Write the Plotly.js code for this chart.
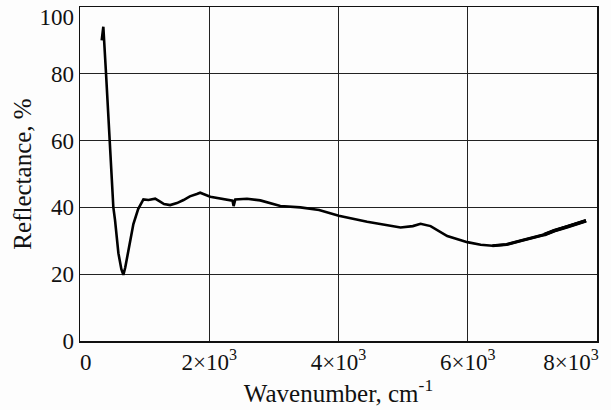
<!DOCTYPE html>
<html>
<head>
<meta charset="utf-8">
<script src="https://cdn.plot.ly/plotly-3.0.1.min.js"></script>
<style>html,body{margin:0;padding:0;background:#fdfdfd;}#chart{width:611px;height:410px;}</style>
</head>
<body>
<div id="chart"></div>
<script>
// Wavenumber (cm^-1)
var wavenumber = [336, 352, 361, 403, 465, 516, 542, 594, 640, 671, 700, 750, 826, 900, 955, 981, 1060, 1163, 1240, 1300, 1395, 1500, 1602, 1700, 1808, 1860, 2015, 2222, 2360, 2377, 2395, 2403, 2584, 2790, 3100, 3410, 3700, 4004, 4443, 4960, 5150, 5270, 5425, 5683, 5993, 6200, 6381, 6600, 6820, 7000, 7181, 7336, 7543, 7700, 7802, 7830];
// Reflectance (%)
var reflectance = [90, 93.5, 94.1, 80, 60, 40, 36.2, 26.3, 21.5, 19.8, 22, 27, 35, 39.5, 41.5, 42.4, 42.2, 42.6, 41.7, 41.0, 40.7, 41.3, 42.2, 43.3, 44, 44.4, 43.2, 42.4, 42.0, 40.4, 42.0, 42.4, 42.6, 42.1, 40.4, 40, 39.2, 37.5, 35.7, 34, 34.4, 35.1, 34.4, 31.4, 29.6, 28.8, 28.5, 28.9, 30.0, 30.8, 31.8, 33.0, 34.2, 35.1, 35.7, 36];
var xTickVals = [0, 2000, 4000, 6000, 8000];
var xTickText = ["&nbsp;&nbsp;0", "2×10<sup>3</sup>", "4×10<sup>3</sup>", "6×10<sup>3</sup>", "8×10<sup>3</sup>&nbsp;&nbsp;&nbsp;&nbsp;&nbsp;&nbsp;&nbsp;&nbsp;&nbsp;"];
var yTickVals = [0, 20, 40, 60, 80, 100];
var yTickText = ["0", "20", "40", "60", "80", "<span style='baseline-shift:-10px'>100</span>"];

var tickFont = {family: "'Liberation Serif', serif", size: 23, color: "#111"};
var titleFont = {family: "'Liberation Serif', serif", size: 25, color: "#111"};

// noisy tail drawn progressively thicker, taken from the same arrays
function tail(fromValue) {
  var i = wavenumber.indexOf(fromValue);
  return {x: wavenumber.slice(i), y: reflectance.slice(i)};
}
var tail1 = tail(6381), tail2 = tail(7181);

Plotly.newPlot("chart", [{
  x: wavenumber, y: reflectance, type: "scatter", mode: "lines",
  line: {color: "#000", width: 2.6}, hoverinfo: "skip"
}, {
  x: tail1.x, y: tail1.y, type: "scatter", mode: "lines",
  line: {color: "#000", width: 3.1}, hoverinfo: "skip"
}, {
  x: tail2.x, y: tail2.y, type: "scatter", mode: "lines",
  line: {color: "#000", width: 3.8}, hoverinfo: "skip"
}], {
  width: 611, height: 410,
  margin: {l: 80, r: 14, t: 7, b: 69},
  paper_bgcolor: "#fdfdfd", plot_bgcolor: "#fdfdfd",
  font: tickFont,
  showlegend: false,
  xaxis: {
    range: [0, 8000], tickvals: xTickVals, ticktext: xTickText,
    showgrid: true, gridcolor: "#222", gridwidth: 1,
    showline: true, linecolor: "#111", linewidth: 1.5, mirror: true,
    ticks: "", zeroline: false, tickfont: tickFont, ticklabeloverflow: "allow",
    title: {text: "Wavenumber, cm<sup>-1</sup>", font: titleFont, standoff: 4}
  },
  yaxis: {
    range: [0, 100], tickvals: yTickVals, ticktext: yTickText,
    showgrid: true, gridcolor: "#222", gridwidth: 1,
    showline: true, linecolor: "#111", linewidth: 1.5, mirror: true,
    ticks: "", zeroline: false, tickfont: tickFont, ticklabeloverflow: "allow",
    title: {text: "Reflectance, %", font: titleFont, standoff: 0}
  }
}, {staticPlot: true});
</script>
</body>
</html>
